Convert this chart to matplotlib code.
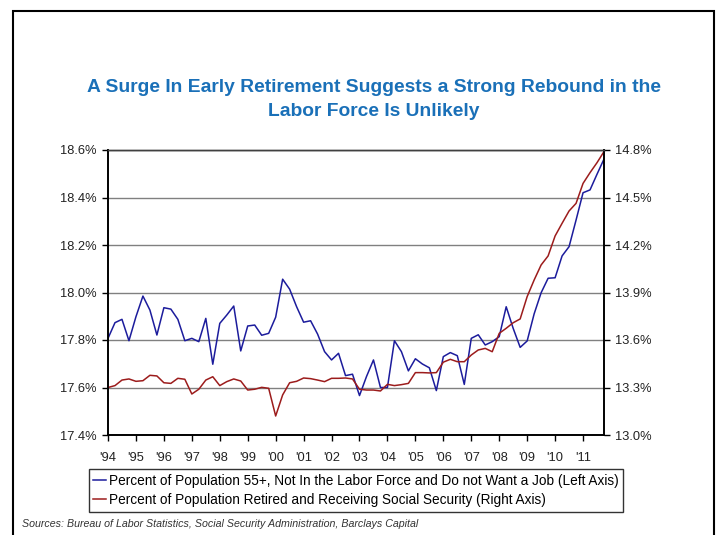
import matplotlib
matplotlib.use("Agg")
import matplotlib.pyplot as plt
from matplotlib.patches import Rectangle
from matplotlib.ticker import FuncFormatter

plt.rcParams['font.family'] = ['Liberation Sans', 'DejaVu Sans']

# Quarterly data, 1994Q1 .. 2011Q4
year_labels = ["'94", "'95", "'96", "'97", "'98", "'99", "'00", "'01", "'02",
               "'03", "'04", "'05", "'06", "'07", "'08", "'09", "'10", "'11"]

not_in_lf_55 = [17.807, 17.873, 17.887, 17.797, 17.898, 17.985, 17.926, 17.821, 17.936, 17.930, 17.887, 17.797,
                17.807, 17.793, 17.891, 17.698, 17.870, 17.905, 17.943, 17.754, 17.859, 17.863, 17.820, 17.828,
                17.896, 18.056, 18.014, 17.940, 17.875, 17.881, 17.825, 17.751, 17.716, 17.744, 17.650, 17.656,
                17.566, 17.646, 17.716, 17.600, 17.600, 17.797, 17.751, 17.670, 17.721, 17.699, 17.683, 17.587,
                17.730, 17.747, 17.734, 17.613, 17.807, 17.822, 17.779, 17.793, 17.814, 17.940, 17.849, 17.769,
                17.796, 17.910, 17.999, 18.060, 18.062, 18.154, 18.193, 18.305, 18.420, 18.432, 18.498, 18.562]

retired_ss = [13.300, 13.312, 13.347, 13.354, 13.339, 13.343, 13.377, 13.373, 13.330, 13.326, 13.358, 13.352,
              13.259, 13.289, 13.347, 13.368, 13.312, 13.337, 13.354, 13.341, 13.284, 13.289, 13.301, 13.295,
              13.120, 13.253, 13.330, 13.339, 13.360, 13.356, 13.347, 13.337, 13.358, 13.358, 13.360, 13.354,
              13.289, 13.284, 13.284, 13.278, 13.320, 13.312, 13.318, 13.326, 13.394, 13.394, 13.392, 13.394,
              13.460, 13.478, 13.463, 13.463, 13.505, 13.537, 13.547, 13.526, 13.642, 13.674, 13.709, 13.733,
              13.874, 13.979, 14.074, 14.131, 14.257, 14.337, 14.415, 14.463, 14.589, 14.657, 14.720, 14.790]

left_ticks = [17.4, 17.6, 17.8, 18.0, 18.2, 18.4, 18.6]
right_ticks = [13.0, 13.3, 13.6, 13.9, 14.2, 14.5, 14.8]

label_blue = "Percent of Population 55+, Not In the Labor Force and Do not Want a Job (Left Axis)"
label_red = "Percent of Population Retired and Receiving Social Security (Right Axis)"

W, H = 718, 535
fig = plt.figure(figsize=(W / 100, H / 100), dpi=100)

# outer frame
fig.add_artist(Rectangle((13 / W, -0.02), (714 - 13) / W, (535 - 11) / H + 0.02,
                         transform=fig.transFigure, fill=False, edgecolor='black', lw=1.5))

ax = fig.add_axes([108 / W, (H - 435) / H, (604 - 108) / W, 285 / H])
ax2 = ax.twinx()

x = list(range(len(not_in_lf_55)))
ln1, = ax.plot(x, not_in_lf_55, color='#1c1c9c', lw=1.1, label=label_blue)
ln2, = ax2.plot(x, retired_ss, color='#9c1c1c', lw=1.1, label=label_red)

ax.set_xlim(0, len(x) - 1)
ax.set_ylim(17.4, 18.6)
ax2.set_ylim(13.0, 14.8)
ax.set_yticks(left_ticks)
ax2.set_yticks(right_ticks)
ax.yaxis.set_major_formatter(FuncFormatter(lambda v, p: f"{v:.1f}%"))
ax2.yaxis.set_major_formatter(FuncFormatter(lambda v, p: f"{v:.1f}%"))

ax.set_xticks([4 * i for i in range(len(year_labels))])
ax.set_xticklabels(year_labels)

ax.grid(axis='y', color='#808080', lw=1.0)
ax.set_axisbelow(True)
for a in (ax, ax2):
    for s in ('left', 'right', 'bottom'):
        a.spines[s].set_color('black')
        a.spines[s].set_linewidth(1.2)
    a.spines['top'].set_color('#404040')
    a.spines['top'].set_linewidth(1.0)
    a.tick_params(axis='both', direction='out', length=4, width=1, labelsize=9.3,
                  colors='black', labelcolor='#222222', pad=4)

ax.tick_params(axis='x', pad=8)

# title
title_color = '#1a70b8'
fig.text(374 / W, 1 - 92.5 / H, "A Surge In Early Retirement Suggests a Strong Rebound in the",
         ha='center', va='baseline', fontsize=13.9, fontweight='bold', color=title_color)
fig.text(374 / W, 1 - 116 / H, "Labor Force Is Unlikely",
         ha='center', va='baseline', fontsize=13.9, fontweight='bold', color=title_color)

leg = fig.legend(handles=[ln1, ln2], loc='center', bbox_to_anchor=(356 / W, 1 - 490.5 / H),
                 fontsize=9.8, frameon=True, fancybox=False, edgecolor='black',
                 handlelength=0.9, handletextpad=0.25, borderpad=0.35, labelspacing=0.4,
                 borderaxespad=0)
leg.get_frame().set_linewidth(1.0)

fig.text(22 / W, 1 - 527 / H,
         "Sources: Bureau of Labor Statistics, Social Security Administration, Barclays Capital",
         ha='left', va='baseline', fontsize=7.7, style='italic', color='#333333')

fig.savefig("out.png", dpi=100)
